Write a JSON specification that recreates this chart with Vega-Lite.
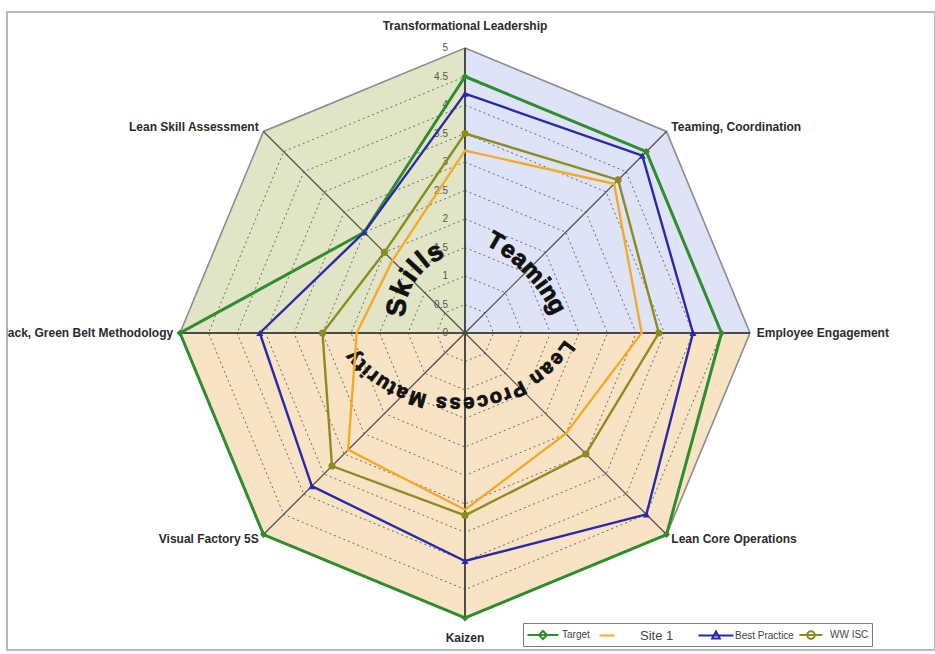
{
  "$schema": "https://vega.github.io/schema/vega-lite/v6.json",
  "width": 928,
  "height": 638,
  "autosize": "none",
  "padding": {"left": 7, "top": 12, "right": 0, "bottom": 4},
  "background": "white",
  "config": {"view": {"stroke": "#b8b8b8", "strokeWidth": 2}, "font": "Liberation Sans"},
  "datasets": {
    "axes": [
      {"axis": "Transformational Leadership", "k": 0},
      {"axis": "Teaming, Coordination", "k": 1},
      {"axis": "Employee Engagement", "k": 2},
      {"axis": "Lean Core Operations", "k": 3},
      {"axis": "Kaizen", "k": 4},
      {"axis": "Visual Factory 5S", "k": 5},
      {"axis": "Black, Green Belt Methodology", "k": 6},
      {"axis": "Lean Skill Assessment", "k": 7}
    ],
    "levels": [
      {"level": 0}, {"level": 0.5}, {"level": 1}, {"level": 1.5}, {"level": 2}, {"level": 2.5},
      {"level": 3}, {"level": 3.5}, {"level": 4}, {"level": 4.5}, {"level": 5}
    ],
    "regions": [
      {"region": "Skills"},
      {"region": "Teaming"},
      {"region": "Lean Process Maturity"}
    ],
    "sectors": [
      {"region": "Skills", "k": -1}, {"region": "Skills", "k": 6}, {"region": "Skills", "k": 7}, {"region": "Skills", "k": 8},
      {"region": "Teaming", "k": -1}, {"region": "Teaming", "k": 0}, {"region": "Teaming", "k": 1}, {"region": "Teaming", "k": 2},
      {"region": "Lean Process Maturity", "k": -1}, {"region": "Lean Process Maturity", "k": 2}, {"region": "Lean Process Maturity", "k": 3},
      {"region": "Lean Process Maturity", "k": 4}, {"region": "Lean Process Maturity", "k": 5}, {"region": "Lean Process Maturity", "k": 6}
    ],
    "scores": [
      {"series": "Target", "axis": "Transformational Leadership", "value": 4.5},
      {"series": "Target", "axis": "Teaming, Coordination", "value": 4.5},
      {"series": "Target", "axis": "Employee Engagement", "value": 4.5},
      {"series": "Target", "axis": "Lean Core Operations", "value": 5},
      {"series": "Target", "axis": "Kaizen", "value": 5},
      {"series": "Target", "axis": "Visual Factory 5S", "value": 5},
      {"series": "Target", "axis": "Black, Green Belt Methodology", "value": 5},
      {"series": "Target", "axis": "Lean Skill Assessment", "value": 2.5},
      {"series": "Site 1", "axis": "Transformational Leadership", "value": 3.2},
      {"series": "Site 1", "axis": "Teaming, Coordination", "value": 3.7},
      {"series": "Site 1", "axis": "Employee Engagement", "value": 3.1},
      {"series": "Site 1", "axis": "Lean Core Operations", "value": 2.5},
      {"series": "Site 1", "axis": "Kaizen", "value": 3.1},
      {"series": "Site 1", "axis": "Visual Factory 5S", "value": 2.9},
      {"series": "Site 1", "axis": "Black, Green Belt Methodology", "value": 1.9},
      {"series": "Site 1", "axis": "Lean Skill Assessment", "value": 1.8},
      {"series": "Best Practice", "axis": "Transformational Leadership", "value": 4.2},
      {"series": "Best Practice", "axis": "Teaming, Coordination", "value": 4.4},
      {"series": "Best Practice", "axis": "Employee Engagement", "value": 4.0},
      {"series": "Best Practice", "axis": "Lean Core Operations", "value": 4.5},
      {"series": "Best Practice", "axis": "Kaizen", "value": 4.0},
      {"series": "Best Practice", "axis": "Visual Factory 5S", "value": 3.8},
      {"series": "Best Practice", "axis": "Black, Green Belt Methodology", "value": 3.6},
      {"series": "Best Practice", "axis": "Lean Skill Assessment", "value": 2.5},
      {"series": "WW ISC", "axis": "Transformational Leadership", "value": 3.5},
      {"series": "WW ISC", "axis": "Teaming, Coordination", "value": 3.8},
      {"series": "WW ISC", "axis": "Employee Engagement", "value": 3.4},
      {"series": "WW ISC", "axis": "Lean Core Operations", "value": 3.0},
      {"series": "WW ISC", "axis": "Kaizen", "value": 3.2},
      {"series": "WW ISC", "axis": "Visual Factory 5S", "value": 3.3},
      {"series": "WW ISC", "axis": "Black, Green Belt Methodology", "value": 2.5},
      {"series": "WW ISC", "axis": "Lean Skill Assessment", "value": 2.0}
    ]
  },
  "encoding": {
    "x": {"field": "x", "type": "quantitative", "scale": {"domain": [-8.0351, 8.2456], "nice": false, "zero": false}, "axis": null},
    "y": {"field": "y", "type": "quantitative", "scale": {"domain": [-5.5614, 5.6316], "nice": false, "zero": false}, "axis": null}
  },
  "layer": [
    {
      "data": {"name": "sectors"},
      "transform": [
        {"calculate": "datum.k < 0 ? 0 : 5", "as": "r"},
        {"calculate": "datum.r * sin(datum.k * PI / 4)", "as": "x"},
        {"calculate": "datum.r * cos(datum.k * PI / 4)", "as": "y"}
      ],
      "mark": {"type": "line", "interpolate": "linear-closed", "strokeWidth": 0, "strokeOpacity": 0},
      "encoding": {
        "fill": {"field": "region", "type": "nominal", "scale": {"domain": ["Skills", "Teaming", "Lean Process Maturity"], "range": ["#e1e5c6", "#dfe3f7", "#f9e3c5"]}, "legend": null},
        "order": {"field": "k", "type": "quantitative"}
      }
    },
    {
      "data": {"name": "levels"},
      "transform": [
        {"filter": "datum.level > 0 && datum.level < 5"},
        {"calculate": "[0, 1, 2, 3, 4, 5, 6, 7]", "as": "k"},
        {"flatten": ["k"]},
        {"calculate": "datum.level * sin(datum.k * PI / 4)", "as": "x"},
        {"calculate": "datum.level * cos(datum.k * PI / 4)", "as": "y"}
      ],
      "mark": {"type": "line", "interpolate": "linear-closed", "stroke": "#6a6a6a", "strokeWidth": 1, "strokeDash": [2, 3]},
      "encoding": {
        "detail": {"field": "level", "type": "nominal"},
        "order": {"field": "k", "type": "quantitative"}
      }
    },
    {
      "data": {"name": "levels"},
      "transform": [
        {"filter": "datum.level == 5"},
        {"calculate": "[0, 1, 2, 3, 4, 5, 6, 7]", "as": "k"},
        {"flatten": ["k"]},
        {"calculate": "datum.level * sin(datum.k * PI / 4)", "as": "x"},
        {"calculate": "datum.level * cos(datum.k * PI / 4)", "as": "y"}
      ],
      "mark": {"type": "line", "interpolate": "linear-closed", "stroke": "#8c8c8c", "strokeWidth": 1.6},
      "encoding": {
        "detail": {"field": "level", "type": "nominal"},
        "order": {"field": "k", "type": "quantitative"}
      }
    },
    {
      "data": {"name": "axes"},
      "transform": [
        {"calculate": "0", "as": "x"},
        {"calculate": "0", "as": "y"},
        {"calculate": "5 * sin(datum.k * PI / 4)", "as": "x2"},
        {"calculate": "5 * cos(datum.k * PI / 4)", "as": "y2"}
      ],
      "mark": {"type": "rule", "stroke": "#4a4a4a"},
      "encoding": {
        "x2": {"field": "x2"},
        "y2": {"field": "y2"},
        "strokeWidth": {"condition": {"test": "datum.k % 2 == 0", "value": 2}, "value": 1.2}
      }
    },
    {
      "data": {"name": "levels"},
      "transform": [
        {"calculate": "0", "as": "x"},
        {"calculate": "datum.level", "as": "y"}
      ],
      "mark": {"type": "text", "align": "right", "baseline": "middle", "dx": -17, "fontSize": 10, "fill": "#555555"},
      "encoding": {"text": {"field": "level", "type": "quantitative"}}
    },
    {
      "data": {"name": "axes"},
      "transform": [
        {"calculate": "sin(datum.k * PI / 4)", "as": "s"},
        {"calculate": "cos(datum.k * PI / 4)", "as": "c"},
        {"calculate": "abs(datum.c) > 0.9 ? 5.26 : 5.12", "as": "rl"},
        {"calculate": "datum.rl * datum.s", "as": "x"},
        {"calculate": "datum.rl * datum.c", "as": "y"}
      ],
      "mark": {
        "type": "text",
        "clip": true,
        "fontSize": 12,
        "fontWeight": "bold",
        "fill": "#2b2b2b",
        "align": {"expr": "datum.s > 0.1 ? 'left' : (datum.s < -0.1 ? 'right' : 'center')"},
        "baseline": {"expr": "datum.c > 0.9 ? 'bottom' : (datum.c < -0.9 ? 'top' : 'middle')"}
      },
      "encoding": {"text": {"field": "axis"}}
    },
    {
      "data": {"name": "regions"},
      "transform": [
        {"calculate": "split(datum.region, '')", "as": "ch"},
        {"flatten": ["ch"]},
        {"window": [{"op": "row_number", "as": "i"}], "groupby": ["region"]},
        {"calculate": "datum.ch === ' ' ? 0.3 : (indexof('ijlt', datum.ch) >= 0 ? 0.33 : (datum.ch === 'r' ? 0.42 : (indexof('mM', datum.ch) >= 0 ? 0.9 : (indexof('STP', datum.ch) >= 0 ? 0.68 : 0.6))))", "as": "w"},
        {"window": [{"op": "sum", "field": "w", "as": "cw"}], "groupby": ["region"], "sort": [{"field": "i"}], "frame": [null, 0]},
        {"joinaggregate": [{"op": "sum", "field": "w", "as": "tw"}], "groupby": ["region"]},
        {"calculate": "datum.region === 'Skills' ? [0.035, 0.316, 1.228, -92.5, -19.4, 27] : (datum.region === 'Teaming' ? [-0.842, -0.772, 2.737, 27, 65.6, 24] : [-0.158, 1.158, 2.404, 123.5, 231.5, 20])", "as": "arc"},
        {"calculate": "datum.arc[3] + (datum.cw - datum.w / 2) / datum.tw * (datum.arc[4] - datum.arc[3])", "as": "deg"},
        {"calculate": "datum.arc[0] + datum.arc[2] * sin(datum.deg * PI / 180)", "as": "x"},
        {"calculate": "datum.arc[1] + datum.arc[2] * cos(datum.deg * PI / 180)", "as": "y"},
        {"calculate": "datum.arc[5]", "as": "fs"}
      ],
      "mark": {"type": "text", "fontWeight": "bold", "fill": "#111111", "stroke": "#111111", "strokeWidth": 0.9, "align": "center", "baseline": "middle"},
      "encoding": {
        "text": {"field": "ch"},
        "angle": {"field": "deg", "type": "quantitative", "scale": null},
        "size": {"field": "fs", "type": "quantitative", "scale": null}
      }
    },
    {
      "data": {"name": "scores"},
      "transform": [
        {"lookup": "axis", "from": {"data": {"name": "axes"}, "key": "axis", "fields": ["k"]}},
        {"calculate": "datum.value * sin(datum.k * PI / 4)", "as": "x"},
        {"calculate": "datum.value * cos(datum.k * PI / 4)", "as": "y"}
      ],
      "mark": {"type": "line", "interpolate": "linear-closed"},
      "encoding": {
        "color": {"field": "series", "type": "nominal", "scale": {"domain": ["Target", "Site 1", "Best Practice", "WW ISC"], "range": ["#2f8c2f", "#f1ab2a", "#2a2aa8", "#8c8c1e"]}, "legend": null},
        "order": {"field": "k", "type": "quantitative"},
        "strokeWidth": {"condition": {"test": "datum.series === 'Target'", "value": 3}, "value": 2.4}
      }
    },
    {
      "data": {"name": "scores"},
      "transform": [
        {"filter": "datum.series !== 'Site 1'"},
        {"lookup": "axis", "from": {"data": {"name": "axes"}, "key": "axis", "fields": ["k"]}},
        {"calculate": "datum.value * sin(datum.k * PI / 4)", "as": "x"},
        {"calculate": "datum.value * cos(datum.k * PI / 4)", "as": "y"}
      ],
      "mark": {
        "type": "point",
        "filled": true,
        "opacity": 1,
        "size": 50,
        "shape": {"expr": "datum.series === 'Target' ? 'diamond' : (datum.series === 'Best Practice' ? 'triangle-up' : 'circle')"}
      },
      "encoding": {
        "color": {"field": "series", "type": "nominal", "scale": {"domain": ["Target", "Site 1", "Best Practice", "WW ISC"], "range": ["#2f8c2f", "#f1ab2a", "#2a2aa8", "#8c8c1e"]}, "legend": null}
      }
    },
    {
      "data": {"name": "scores"},
      "transform": [
        {"lookup": "axis", "from": {"data": {"name": "axes"}, "key": "axis", "fields": ["k"]}},
        {"calculate": "datum.value * sin(datum.k * PI / 4)", "as": "x"},
        {"calculate": "datum.value * cos(datum.k * PI / 4)", "as": "y"}
      ],
      "mark": {"type": "point", "filled": false, "opacity": 0, "size": 256, "strokeWidth": 2},
      "encoding": {
        "color": {
          "field": "series", "type": "nominal",
          "scale": {"domain": ["Target", "Site 1", "Best Practice", "WW ISC"], "range": ["#2f8c2f", "#f1ab2a", "#2a2aa8", "#8c8c1e"]},
          "legend": {
            "title": null, "orient": "none", "legendX": 516, "legendY": 611, "direction": "horizontal",
            "strokeColor": "#7a7a7a", "fillColor": "white", "padding": 3, "columnPadding": 0,
            "symbolSize": 256, "symbolOffset": 8, "labelOffset": 10, "symbolStrokeWidth": 2, "symbolOpacity": 1,
            "labelFontSize": 10, "labelColor": "#444444",
            "labelExpr": "datum.value === 'Site 1' ? 'Site 1\u2800\u2800' : datum.label",
            "encoding": {"labels": {
              "fontSize": {"condition": {"test": "datum.value === 'Site 1'", "value": 13}, "value": 10},
              "dx": {"condition": {"test": "datum.value === 'Site 1'", "value": 14}, "value": 0}
            }}
          }
        },
        "shape": {
          "field": "series", "type": "nominal",
          "scale": {
            "domain": ["Target", "Site 1", "Best Practice", "WW ISC"],
            "range": [
              "M-1.94,0H1.94M0,-0.5L0.5,0L0,0.5L-0.5,0Z",
              "M-0.94,0H0.94",
              "M-2.19,0H2.19M0,-0.52L0.48,0.36L-0.48,0.36Z",
              "M-1.44,0H1.44M0.48,0A0.48,0.48,0,1,1,-0.48,0A0.48,0.48,0,1,1,0.48,0Z"
            ]
          },
          "legend": {
            "title": null, "orient": "none", "legendX": 516, "legendY": 611, "direction": "horizontal",
            "strokeColor": "#7a7a7a", "fillColor": "white", "padding": 3, "columnPadding": 0,
            "symbolSize": 256, "symbolOffset": 8, "labelOffset": 10, "symbolStrokeWidth": 2, "symbolOpacity": 1,
            "labelFontSize": 10, "labelColor": "#444444",
            "labelExpr": "datum.value === 'Site 1' ? 'Site 1\u2800\u2800' : datum.label",
            "encoding": {"labels": {
              "fontSize": {"condition": {"test": "datum.value === 'Site 1'", "value": 13}, "value": 10},
              "dx": {"condition": {"test": "datum.value === 'Site 1'", "value": 14}, "value": 0}
            }}
          }
        }
      }
    }
  ],
  "resolve": {"legend": {"color": "independent", "shape": "independent"}}
}
